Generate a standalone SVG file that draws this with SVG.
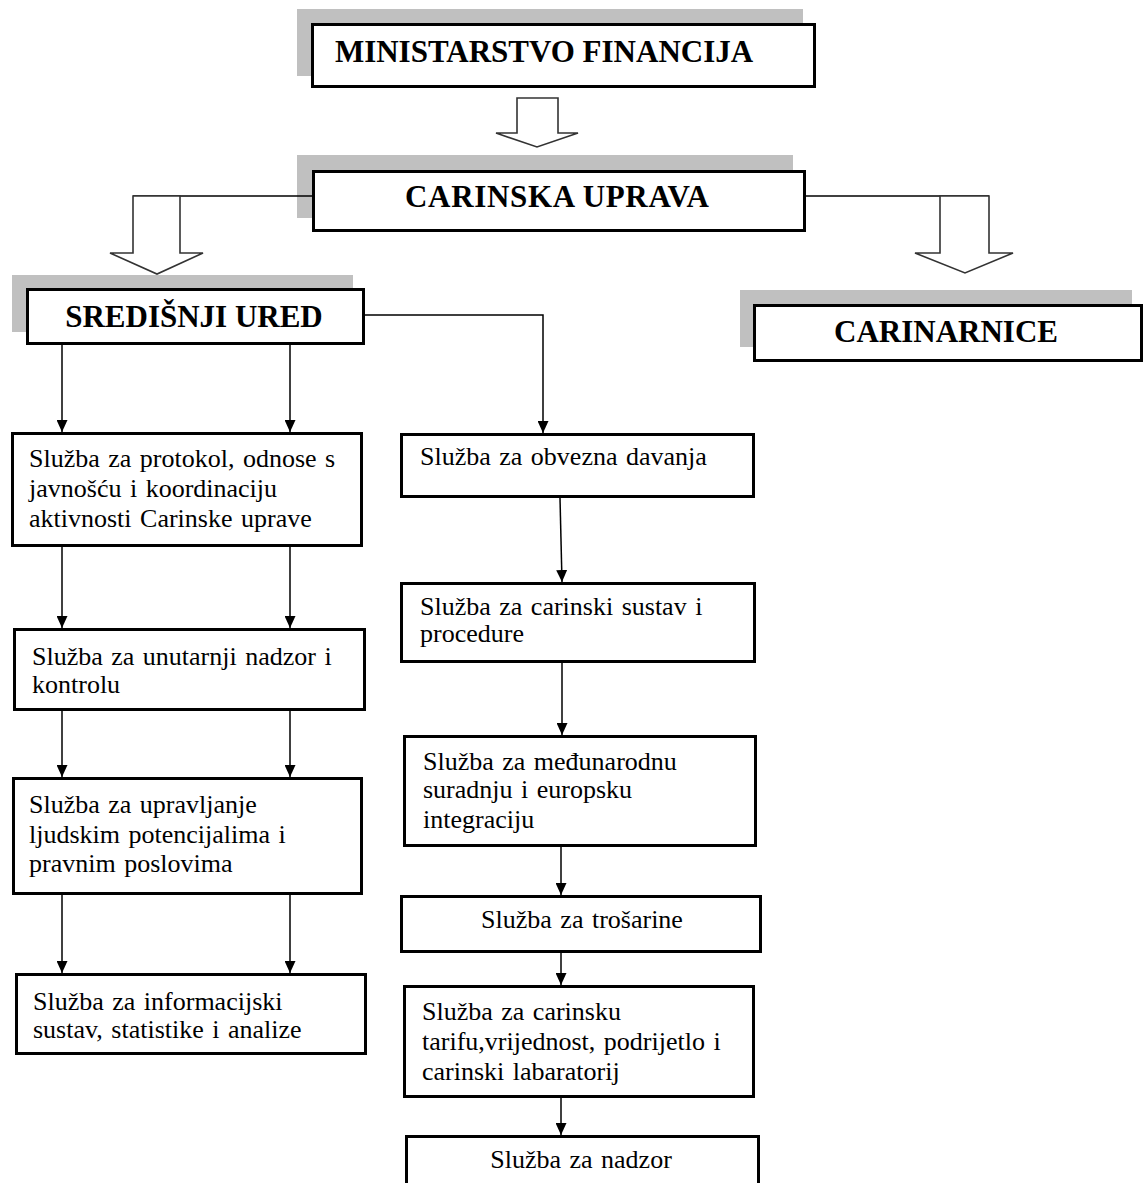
<svg xmlns="http://www.w3.org/2000/svg" width="1144" height="1183" viewBox="0 0 1144 1183">
<style>
.shadow{fill:#c0c0c0;stroke:none}
.box{fill:#fff;stroke:#000;stroke-width:3}
.title{font-family:"Liberation Serif","Times New Roman",serif;font-weight:bold;font-size:31px;fill:#000;text-anchor:middle}
.t{font-family:"Liberation Serif","Times New Roman",serif;font-size:26px;fill:#000;word-spacing:2px}
.tc{font-family:"Liberation Serif","Times New Roman",serif;font-size:26px;fill:#000;text-anchor:middle;word-spacing:2px}
.conn{fill:none;stroke:#000;stroke-width:1.5}
.hollow{fill:#fff;stroke:#333;stroke-width:1.6;stroke-linejoin:miter}
</style>
<defs>
<marker id="ah" markerUnits="userSpaceOnUse" markerWidth="12" markerHeight="11" refX="12" refY="5.5" orient="auto" viewBox="0 0 12 11">
<path d="M0,0 L12,5.5 L0,11 z" fill="#000"/>
</marker>
</defs>
<rect width="1144" height="1183" fill="#fff"/>

<g id="shadows">
<rect class="shadow" x="297" y="9" width="506" height="67"/>
<rect class="shadow" x="297" y="155" width="496" height="63"/>
<rect class="shadow" x="12" y="275" width="341" height="57"/>
<rect class="shadow" x="740" y="290" width="392" height="57"/>
</g>

<g id="connectors">
<path class="conn" d="M312,196 H133"/>
<path class="conn" d="M806,196 H989"/>
<polygon class="hollow" points="517,98 558,98 558,133 578,133 537,147 496,133 517,133"/>
<polygon class="hollow" points="133,196 180,196 180,253 203,253 157,274 110,253 133,253"/>
<polygon class="hollow" points="940,196 989,196 989,253 1013,253 965,273 915,253 940,253"/>
<path class="conn" d="M62,345 V432" marker-end="url(#ah)"/>
<path class="conn" d="M290,345 V432" marker-end="url(#ah)"/>
<path class="conn" d="M62,547 V628" marker-end="url(#ah)"/>
<path class="conn" d="M290,547 V628" marker-end="url(#ah)"/>
<path class="conn" d="M62,711 V777" marker-end="url(#ah)"/>
<path class="conn" d="M290,711 V777" marker-end="url(#ah)"/>
<path class="conn" d="M62,895 V973" marker-end="url(#ah)"/>
<path class="conn" d="M290,895 V973" marker-end="url(#ah)"/>
<path class="conn" d="M365,315 H543 V433" marker-end="url(#ah)"/>
<path class="conn" d="M560,498 L562,582" marker-end="url(#ah)"/>
<path class="conn" d="M562,663 V735" marker-end="url(#ah)"/>
<path class="conn" d="M561,847 V895" marker-end="url(#ah)"/>
<path class="conn" d="M561,953 V985" marker-end="url(#ah)"/>
<path class="conn" d="M561,1098 V1135" marker-end="url(#ah)"/>
</g>

<g id="ministarstvo">
<rect class="box" x="312.5" y="24.5" width="502" height="62"/>
<text class="title" x="544" y="62">MINISTARSTVO FINANCIJA</text>
</g>
<g id="carinska-uprava">
<rect class="box" x="313.5" y="171.5" width="491" height="59"/>
<text class="title" x="557" y="207" textLength="304" lengthAdjust="spacing">CARINSKA UPRAVA</text>
</g>
<g id="sredisnji-ured">
<rect class="box" x="27.5" y="289.5" width="336" height="54"/>
<text class="title" x="194" y="327">SREDIŠNJI URED</text>
</g>
<g id="carinarnice">
<rect class="box" x="754.5" y="305.5" width="387" height="55"/>
<text class="title" x="946" y="342">CARINARNICE</text>
</g>

<g id="sluzba-protokol">
<rect class="box" x="12.5" y="433.5" width="349" height="112"/>
<text class="t" x="29" y="467">Služba za protokol, odnose s</text>
<text class="t" x="29" y="497">javnošću i koordinaciju</text>
<text class="t" x="29" y="527">aktivnosti Carinske uprave</text>
</g>
<g id="sluzba-nadzor-kontrola">
<rect class="box" x="14.5" y="629.5" width="350" height="80"/>
<text class="t" x="32" y="665">Služba za unutarnji nadzor i</text>
<text class="t" x="32" y="693">kontrolu</text>
</g>
<g id="sluzba-ljudski">
<rect class="box" x="13.5" y="778.5" width="348" height="115"/>
<text class="t" x="29" y="813">Služba za upravljanje</text>
<text class="t" x="29" y="843">ljudskim potencijalima i</text>
<text class="t" x="29" y="872">pravnim poslovima</text>
</g>
<g id="sluzba-informacijski">
<rect class="box" x="16.5" y="974.5" width="349" height="79"/>
<text class="t" x="33" y="1010">Služba za informacijski</text>
<text class="t" x="33" y="1038">sustav, statistike i analize</text>
</g>

<g id="sluzba-obvezna">
<rect class="box" x="401.5" y="434.5" width="352" height="62"/>
<text class="t" x="420" y="465">Služba za obvezna davanja</text>
</g>
<g id="sluzba-carinski-sustav">
<rect class="box" x="401.5" y="583.5" width="353" height="78"/>
<text class="t" x="420" y="615">Služba za carinski sustav i</text>
<text class="t" x="420" y="642">procedure</text>
</g>
<g id="sluzba-medunarodna">
<rect class="box" x="404.5" y="736.5" width="351" height="109"/>
<text class="t" x="423" y="770">Služba za međunarodnu</text>
<text class="t" x="423" y="798">suradnju i europsku</text>
<text class="t" x="423" y="828">integraciju</text>
</g>
<g id="sluzba-trosarine">
<rect class="box" x="401.5" y="896.5" width="359" height="55"/>
<text class="tc" x="582" y="928">Služba za trošarine</text>
</g>
<g id="sluzba-tarifa">
<rect class="box" x="404.5" y="986.5" width="349" height="110"/>
<text class="t" x="422" y="1020">Služba za carinsku</text>
<text class="t" x="422" y="1050">tarifu,vrijednost, podrijetlo i</text>
<text class="t" x="422" y="1080">carinski labaratorij</text>
</g>
<g id="sluzba-nadzor">
<rect class="box" x="406.5" y="1136.5" width="352" height="60"/>
<text class="tc" x="581" y="1168">Služba za nadzor</text>
</g>
</svg>
